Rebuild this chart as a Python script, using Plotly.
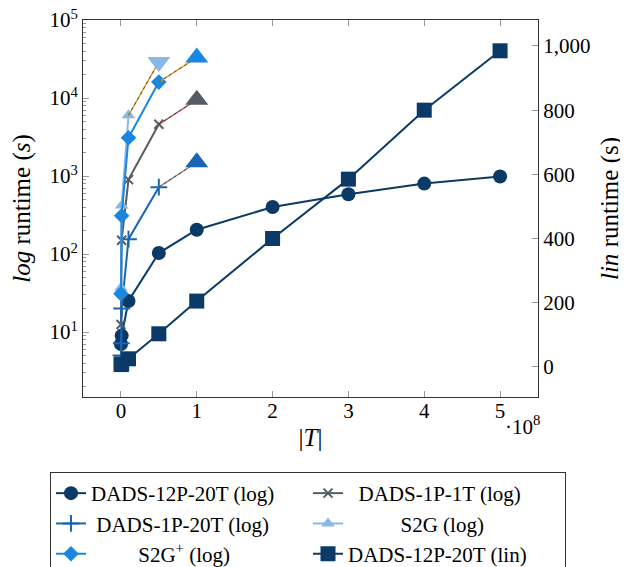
import math
import plotly.graph_objects as go

# ---------------- data ----------------
T_12p = [1e5, 1e6, 1e7, 5e7, 1e8, 2e8, 3e8, 4e8, 5e8]
rt_12p = [7, 9, 25, 103, 205, 400, 585, 800, 985]

T_1p20 = [1e5, 5e5, 1e6, 1e7, 5e7]
rt_1p20 = [5, 7.2, 20, 155, 720]
ext_1p20_T = [5e7, 1e8]
ext_1p20_rt = [720, 1500]

T_1p1 = [1e5, 1e6, 1e7, 5e7]
rt_1p1 = [12.5, 150, 900, 4600]
ext_1p1_T = [5e7, 1e8]
ext_1p1_rt = [4600, 9500]

T_s2g = [1e5, 1e6, 1e7]
rt_s2g = [37, 420, 6000]
ext_s2g_T = [1e7, 5e7]
ext_s2g_rt = [6000, 29000]

T_s2gp = [1e5, 1e6, 1e7, 5e7]
rt_s2gp = [31, 310, 3100, 16000]
ext_s2gp_T = [5e7, 1e8]
ext_s2gp_rt = [16000, 33000]

x_ticks = [0, 1e8, 2e8, 3e8, 4e8, 5e8]
x_ticktext = ["0", "1", "2", "3", "4", "5"]
ylog_ticks = [10, 100, 1000, 10000, 100000]
ylog_ticktext = ["10<sup>1</sup>", "10<sup>2</sup>", "10<sup>3</sup>", "10<sup>4</sup>", "10<sup>5</sup>"]
ylog_minor = [m * 10 ** d for d in range(0, 5) for m in range(2, 10)]
ylin_ticks = [0, 200, 400, 600, 800, 1000]

# ---------------- style ----------------
NAVY = "#0b3a66"
BLUE1P = "#1866b4"
GRAY = "#555c63"
LIGHT = "#88b8e8"
BRIGHT = "#1a86e0"
FONT = "Liberation Serif, Times New Roman, Tinos, serif"
FS = 21
NB = "\u00a0"

fig = go.Figure()

def main(x, y, name, color, symbol, size, yaxis="y", mline=0):
    fig.add_trace(go.Scatter(
        x=x, y=y, name=name, mode="lines+markers", yaxis=yaxis,
        line=dict(color=color, width=2),
        marker=dict(symbol=symbol, size=size, color=color,
                    line=dict(color=color, width=mline)),
    ))

main(T_12p, rt_12p, "DADS-12P-20T (log)", NAVY, "circle", 14)
main(T_1p1, rt_1p1, NB * 2 + "DADS-1P-1T (log)", GRAY, "x-thin", 9, mline=2)
main(T_1p20, rt_1p20, NB + "DADS-1P-20T (log)", BLUE1P, "cross-thin", 12, mline=2)
main(T_s2g, rt_s2g, NB * 10 + "S2G (log)", LIGHT, "triangle-up", 12)
main(T_s2gp, rt_s2gp, NB * 9 + "S2G<sup>+</sup> (log)", BRIGHT, "diamond", 12)
main(T_12p, rt_12p, "DADS-12P-20T (lin)", NAVY, "square", 15, yaxis="y2")

def ext(x, y, lcolor, mcolor, msym):
    fig.add_trace(go.Scatter(x=x, y=y, mode="lines", showlegend=False,
                             line=dict(color=lcolor, width=1.4), hoverinfo="skip"))
    fig.add_trace(go.Scatter(x=x, y=y, mode="lines", showlegend=False,
                             line=dict(color="#333333", width=0.8, dash="3px,3px"),
                             hoverinfo="skip"))
    fig.add_trace(go.Scatter(x=[x[-1]], y=[y[-1]], mode="markers", showlegend=False,
                             marker=dict(symbol=msym, size=20, color=mcolor)))

ext(ext_1p20_T, ext_1p20_rt, "#888888", BLUE1P, "triangle-up")
ext(ext_1p1_T, ext_1p1_rt, "#c0504d", GRAY, "triangle-up")
ext(ext_s2g_T, ext_s2g_rt, "#e0a020", LIGHT, "triangle-down")
ext(ext_s2gp_T, ext_s2gp_rt, "#e0a020", BRIGHT, "triangle-up")

# ---------------- layout ----------------
OFF = 8  # page body margin
FW, FH = 628 - OFF, 567 - OFF
L, R, T, B = 83, 538, 20, 397  # target page pixels of plot box
W = R - L
H = B - T
axis_line = "#333333"
tick_col = "#999999"

fig.update_layout(
    width=FW, height=FH,
    margin=dict(l=L - OFF, r=FW - (R - OFF), t=T - OFF, b=FH - (B - OFF), pad=0,
                autoexpand=False),
    paper_bgcolor="white", plot_bgcolor="white",
    font=dict(family=FONT, size=FS, color="black"),
    xaxis=dict(
        range=[-0.5e8, 5.5e8], tickmode="array", tickvals=x_ticks, ticktext=x_ticktext,
        ticks="inside", ticklen=6, tickcolor=tick_col, showline=True, linecolor=axis_line,
        linewidth=1, mirror="ticks", showgrid=False, zeroline=False,
        ticklabelstandoff=-5,
        title=dict(text="|<i>T</i>|", standoff=6),
    ),
    yaxis=dict(
        type="log", range=[math.log10(1.47), 5], tickmode="array",
        tickvals=ylog_ticks, ticktext=ylog_ticktext, ticklabeloverflow="allow",
        ticks="inside", ticklen=6, tickcolor=tick_col,
        minor=dict(tickmode="array", tickvals=ylog_minor, ticks="inside", ticklen=3,
                   tickcolor=tick_col, showgrid=False),
        showline=True, linecolor=axis_line, linewidth=1, showgrid=False, zeroline=False,
        title=dict(text="<i>log</i> runtime (<i>s</i>)", standoff=22),
    ),
    yaxis2=dict(
        overlaying="y", side="right", range=[-94, 1081], tickmode="array",
        tickvals=ylin_ticks, tickformat=",d",
        ticks="inside", ticklen=6, tickcolor=tick_col, showline=True,
        linecolor=axis_line, linewidth=1, showgrid=False, zeroline=False,
        title=dict(text="<i>lin</i> runtime (s)", standoff=11),
    ),
    legend=dict(
        orientation="h", x=(50 - L) / W, xanchor="left", y=(B - 472) / H, yanchor="top",
        bordercolor=axis_line, borderwidth=1, entrywidth=212, entrywidthmode="pixels",
        font=dict(family=FONT, size=FS), tracegroupgap=0, bgcolor="white",
    ),
    showlegend=True,
)

fig.add_annotation(
    text="·10<sup>8</sup>", xref="paper", yref="paper",
    x=(522 - L) / W, y=(B - 410) / H, xanchor="center", yanchor="top", showarrow=False,
    font=dict(family=FONT, size=FS),
)

fig.write_html("out.html")
